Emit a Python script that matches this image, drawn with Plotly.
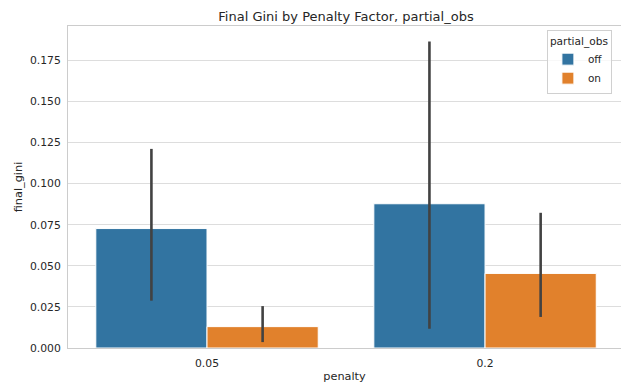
import plotly.graph_objects as go

categories = ["0.05", "0.2"]
series_names = ["off", "on"]
means = {"off": [0.0727, 0.0878], "on": [0.0130, 0.0454]}
ci_high = {"off": [0.1212, 0.1865], "on": [0.0255, 0.0823]}
ci_low = {"off": [0.0288, 0.0117], "on": [0.0036, 0.0189]}
colors = {"off": "#3274a1", "on": "#e1812c"}
y_ticks = [0.0, 0.025, 0.05, 0.075, 0.1, 0.125, 0.15, 0.175]

W, H = 621, 383

fig = go.Figure()
for s in series_names:
    fig.add_trace(go.Bar(
        x=categories, y=means[s], name=s,
        marker=dict(color=colors[s], line=dict(color="white", width=1)),
        error_y=dict(type="data", symmetric=False,
                     array=[h - m for h, m in zip(ci_high[s], means[s])],
                     arrayminus=[m - l for l, m in zip(ci_low[s], means[s])],
                     color="#424242", thickness=2.6, width=0),
    ))

fig.update_layout(
    width=W, height=H,
    margin=dict(l=68, r=0, t=26, b=35, autoexpand=False),
    plot_bgcolor="white", paper_bgcolor="white",
    font=dict(family="DejaVu Sans", color="#262626", size=10.8),
    title=dict(text="Final Gini by Penalty Factor, partial_obs", x=0.5027,
               xref="paper", xanchor="center",
               y=1 - 16.5 / H, yanchor="middle", font=dict(size=13)),
    barmode="group", bargap=0.2, bargroupgap=0,
    xaxis=dict(title=dict(text="penalty", standoff=3, font=dict(size=11.3)), showgrid=False,
               showline=True, mirror=True, linecolor="#cccccc", linewidth=1,
               ticks="outside", ticklen=5, tickcolor="rgba(0,0,0,0)",
               range=[-0.5, 1.489], tickfont=dict(size=10.8), automargin=False),
    yaxis=dict(title=dict(text="final_gini", standoff=4, font=dict(size=11.3)), range=[0, 0.196],
               tickvals=y_ticks, tickformat=".3f", showgrid=True, gridcolor="#dddddd",
               gridwidth=1, showline=True, mirror=False, linecolor="#cccccc", linewidth=1,
               zeroline=False, ticks="outside", ticklen=4, tickcolor="rgba(0,0,0,0)",
               tickfont=dict(size=10.8), automargin=False),
    legend=dict(title=dict(text="partial_obs", side="top", font=dict(size=10.6)),
                x=0.866, y=0.988, xanchor="left", yanchor="top",
                bordercolor="#d0d0d0", borderwidth=1,
                bgcolor="rgba(255,255,255,0.8)", font=dict(size=10.5)),
)

fig.write_html(
    "out.html",
    config={"displayModeBar": False},
    post_script="document.body.style.margin='0';document.body.style.overflow='hidden';"
                "document.documentElement.style.overflow='hidden';",
)
